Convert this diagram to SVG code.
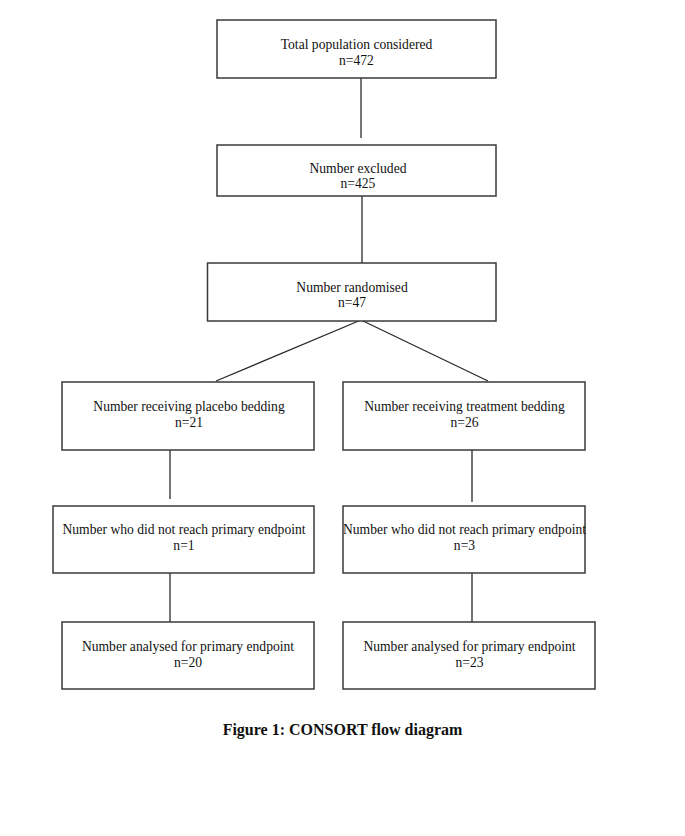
<svg xmlns="http://www.w3.org/2000/svg" width="685" height="836" viewBox="0 0 685 836">
<style>
  .box { fill: #ffffff; stroke: #3a3a3a; stroke-width: 1.5; }
  .conn { stroke: #2a2a2a; stroke-width: 1.3; fill: none; }
  .t { font-family: "Liberation Serif", "Times New Roman", serif; font-size: 13.6px; fill: #111; text-anchor: middle; }
  .cap { font-family: "Liberation Serif", "Times New Roman", serif; font-size: 16px; font-weight: bold; fill: #111; text-anchor: middle; }
</style>
<rect x="0" y="0" width="685" height="836" fill="#ffffff"/>
<g id="connectors">
  <line class="conn" x1="361" y1="78" x2="361" y2="138"/>
  <line class="conn" x1="362" y1="196" x2="362" y2="263"/>
  <line class="conn" x1="361" y1="320" x2="216" y2="381"/>
  <line class="conn" x1="361" y1="320" x2="488" y2="381"/>
  <line class="conn" x1="170" y1="450" x2="170" y2="499"/>
  <line class="conn" x1="472" y1="450" x2="472" y2="502"/>
  <line class="conn" x1="170" y1="573" x2="170" y2="622"/>
  <line class="conn" x1="472" y1="573" x2="472" y2="622"/>
</g>
<g id="total">
  <rect class="box" x="217" y="20" width="279" height="58"/>
  <text class="t" x="356.5" y="49">Total population considered</text>
  <text class="t" x="356.5" y="65">n=472</text>
</g>
<g id="excluded">
  <rect class="box" x="217" y="145" width="279" height="51"/>
  <text class="t" x="358" y="173">Number excluded</text>
  <text class="t" x="358" y="188">n=425</text>
</g>
<g id="randomised">
  <rect class="box" x="207.5" y="263" width="288.5" height="58"/>
  <text class="t" x="352" y="292">Number randomised</text>
  <text class="t" x="352" y="307">n=47</text>
</g>
<g id="placebo">
  <rect class="box" x="62" y="382" width="252" height="68"/>
  <text class="t" x="189" y="411">Number receiving placebo bedding</text>
  <text class="t" x="189" y="427">n=21</text>
</g>
<g id="treatment">
  <rect class="box" x="343" y="382" width="242" height="68"/>
  <text class="t" x="464.5" y="411">Number receiving treatment bedding</text>
  <text class="t" x="464.5" y="427">n=26</text>
</g>
<g id="notreach-placebo">
  <rect class="box" x="53" y="506" width="261" height="67"/>
  <text class="t" x="184" y="534">Number who did not reach primary endpoint</text>
  <text class="t" x="184" y="550">n=1</text>
</g>
<g id="notreach-treatment">
  <rect class="box" x="343" y="506" width="242" height="67"/>
  <text class="t" x="464.5" y="534">Number who did not reach primary endpoint</text>
  <text class="t" x="464.5" y="550">n=3</text>
</g>
<g id="analysed-placebo">
  <rect class="box" x="62" y="622" width="252" height="67"/>
  <text class="t" x="188" y="651">Number analysed for primary endpoint</text>
  <text class="t" x="188" y="667">n=20</text>
</g>
<g id="analysed-treatment">
  <rect class="box" x="343" y="622" width="252" height="67"/>
  <text class="t" x="469.5" y="651">Number analysed for primary endpoint</text>
  <text class="t" x="469.5" y="667">n=23</text>
</g>
<text class="cap" x="342.5" y="735">Figure 1: CONSORT flow diagram</text>
</svg>
